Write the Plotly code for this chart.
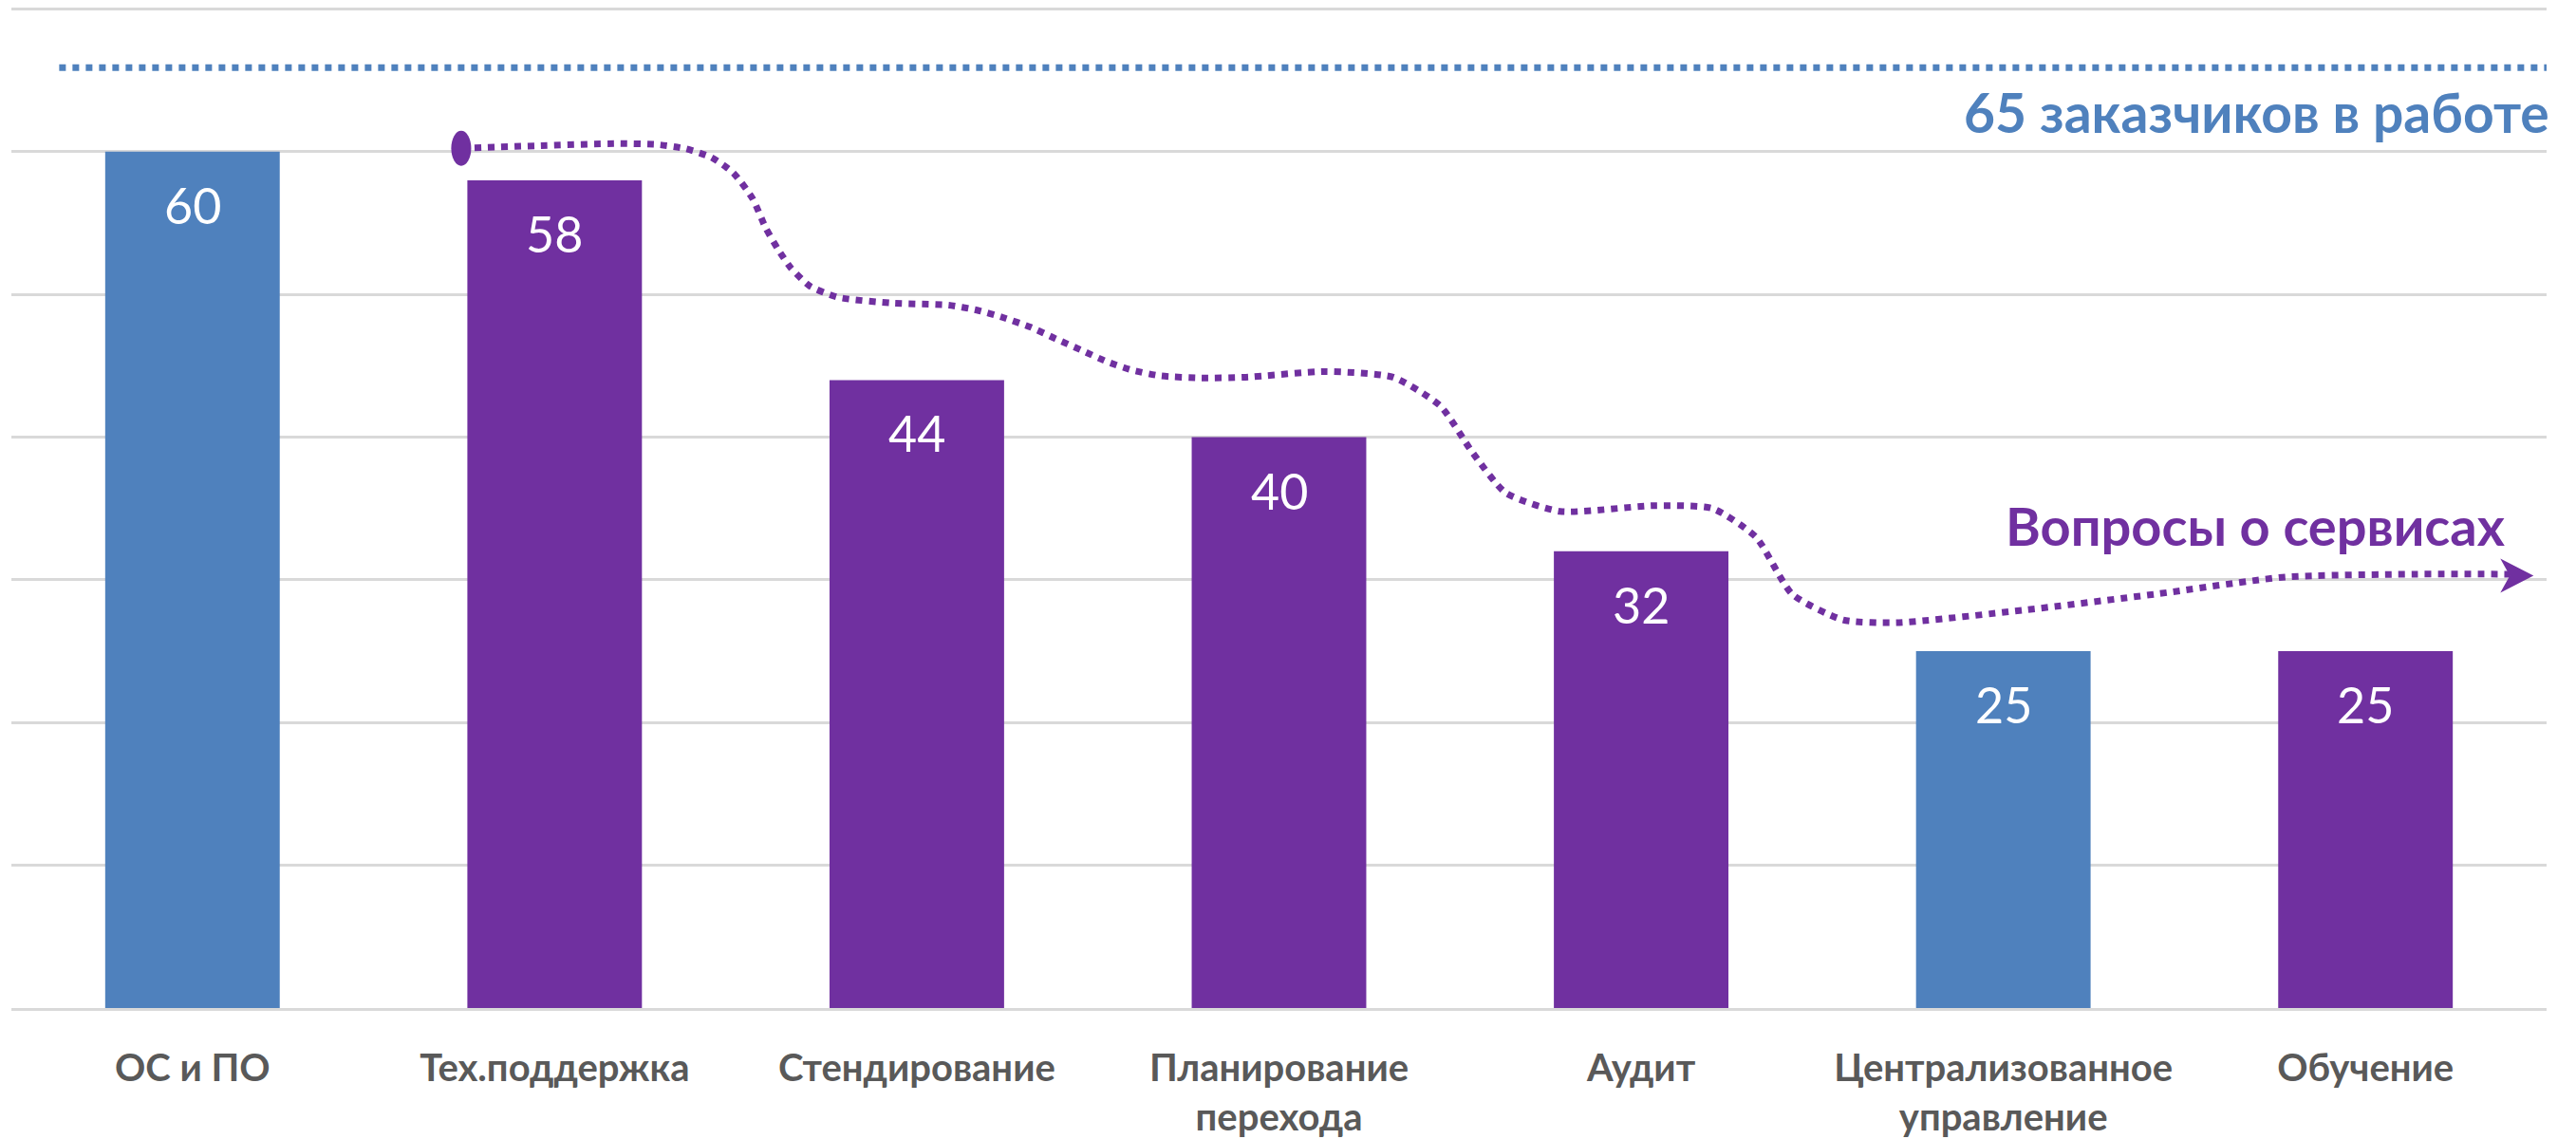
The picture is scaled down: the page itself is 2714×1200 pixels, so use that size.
import plotly.graph_objects as go

# ---------------- data ----------------
categories = ["ОС и ПО", "Тех.поддержка", "Стендирование", "Планирование<br>перехода",
              "Аудит", "Централизованное<br>управление", "Обучение"]
values = [60, 58, 44, 40, 32, 25, 25]
blue_categories = ["ОС и ПО", "Централизованное<br>управление"]

total_label = "65 заказчиков в работе"
services_label = "Вопросы о сервисах"

# trend curve (x in category-index units, y in value units)
trend_x = [0.742, 0.953, 1.171, 1.285, 1.363, 1.433, 1.494, 1.547, 1.582, 1.616, 1.651,
           1.704, 1.782, 1.930, 2.088, 2.166, 2.236, 2.315, 2.383, 2.454, 2.524, 2.594,
           2.672, 2.786, 2.908, 3.126, 3.315, 3.445, 3.535, 3.626, 3.776, 4.035, 4.197,
           4.317, 4.417, 4.557, 4.705, 5.063, 5.420, 5.779, 6.137, 6.400]
trend_y = [60.24, 60.42, 60.57, 60.5, 60.2, 59.6, 58.5, 56.7, 54.7, 53.2, 51.9,
           50.6, 49.8, 49.4, 49.25, 48.9, 48.4, 47.7, 46.9, 46.1, 45.3, 44.7,
           44.3, 44.15, 44.2, 44.6, 44.2, 42.2, 38.9, 36.1, 34.8, 35.2, 35.0,
           33.0, 29.0, 27.2, 27.0, 27.9, 29.0, 30.2, 30.4, 30.4]
arrow_tip = (6.464, 30.3)

# ---------------- style ----------------
BLUE = "#4F81BD"
PURPLE = "#7030A0"
GRID = "#D9D9D9"
LABEL_GRAY = "#595959"
FONT = "Lato"
clients_line_level = 65.9

bar_colors = [BLUE if c in blue_categories else PURPLE for c in categories]

fig = go.Figure()
fig.add_trace(go.Bar(x=categories, y=values, marker=dict(color=bar_colors, line=dict(width=0)),
                     hoverinfo="skip", showlegend=False))

fig.add_trace(go.Scatter(x=trend_x, y=trend_y, xaxis="x2", yaxis="y", mode="lines",
                         line=dict(color=PURPLE, width=7, dash="dot", shape="spline", smoothing=0.6),
                         hoverinfo="skip", showlegend=False))

# value labels inside bars
for c, v in zip(categories, values):
    fig.add_annotation(x=c, y=v, xref="x", yref="y", text=str(v), showarrow=False,
                       yshift=-56, yanchor="middle",
                       font=dict(family=FONT, size=52, color="white"))

# start ellipse of the curve
fig.add_shape(type="circle", xref="x2", yref="y", xsizemode="pixel", ysizemode="pixel",
              xanchor=trend_x[0], yanchor=trend_y[0], x0=-10.5, x1=10.5, y0=-18.5, y1=18.5,
              fillcolor=PURPLE, line=dict(width=0))

# arrowhead at the end of the curve
fig.add_shape(type="path", xref="x2", yref="y", xsizemode="pixel", ysizemode="pixel",
              xanchor=arrow_tip[0], yanchor=arrow_tip[1],
              path="M -35 18 L 0 0 L -35 -18 L -25 0 Z",
              fillcolor=PURPLE, line=dict(width=0))

# dotted line of total clients
fig.add_shape(type="line", xref="x2", yref="y", x0=-0.368, x1=6.522,
              y0=clients_line_level, y1=clients_line_level,
              line=dict(color=BLUE, width=7, dash="dot"))

fig.add_annotation(x=1.0018, xref="paper", y=62.8, yref="y", text="<b>%s</b>" % total_label,
                   xanchor="right", yanchor="middle", showarrow=False,
                   font=dict(family=FONT, size=57, color=BLUE))
fig.add_annotation(x=6.393, xref="x2", y=33.8, yref="y", text="<b>%s</b>" % services_label,
                   xanchor="right", yanchor="middle", showarrow=False,
                   font=dict(family=FONT, size=56, color=PURPLE))

fig.update_layout(
    width=2706, height=1192,
    margin=dict(l=4, r=31, t=0, b=130),
    paper_bgcolor="white", plot_bgcolor="white",
    bargap=0.518,
    xaxis=dict(type="category", showgrid=False, showline=True, linecolor=GRID, linewidth=3,
               ticks="", ticklabelstandoff=26,
               tickfont=dict(family=FONT, size=40, color=LABEL_GRAY, weight="bold"),
               fixedrange=True),
    xaxis2=dict(overlaying="x", range=[-0.5, 6.5], visible=False, fixedrange=True),
    yaxis=dict(range=[0, 70.1], tickvals=[10, 20, 30, 40, 50, 60, 70], showgrid=True,
               gridcolor=GRID, gridwidth=3,
               showticklabels=False, zeroline=False, ticks="", fixedrange=True),
    font=dict(family=FONT),
)

fig.write_html("out.html")
